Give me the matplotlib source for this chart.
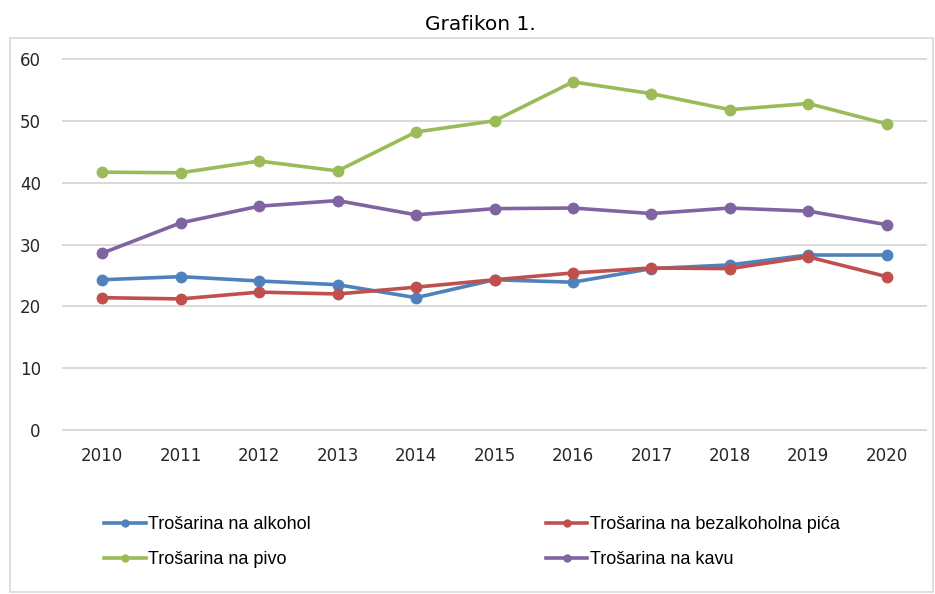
import matplotlib
matplotlib.use("Agg")
import matplotlib.pyplot as plt
from matplotlib.patches import Rectangle

years = ["2010", "2011", "2012", "2013", "2014", "2015", "2016", "2017", "2018", "2019", "2020"]
alkohol = [24.3, 24.8, 24.1, 23.5, 21.4, 24.3, 23.9, 26.1, 26.7, 28.3, 28.3]
bezalkoholna = [21.4, 21.2, 22.3, 22.0, 23.1, 24.3, 25.4, 26.2, 26.1, 28.0, 24.8]
pivo = [41.7, 41.6, 43.5, 41.9, 48.2, 50.0, 56.3, 54.4, 51.8, 52.8, 49.5]
kava = [28.6, 33.5, 36.2, 37.1, 34.8, 35.8, 35.9, 35.0, 35.9, 35.4, 33.2]

labels = ["Trošarina na alkohol", "Trošarina na bezalkoholna pića",
          "Trošarina na pivo", "Trošarina na kavu"]
colors = ["#4F81BD", "#C0504D", "#9BBB59", "#8064A2"]

W, H = 935, 594
fig = plt.figure(figsize=(W / 100, H / 100), dpi=100)
fig.patch.set_facecolor("white")

# outer chart border
fig.add_artist(Rectangle((10 / W, 1 - 592 / H), 923 / W, (592 - 38) / H,
                         transform=fig.transFigure, fill=False,
                         edgecolor="#D9D9D9", linewidth=1.2))

fig.text(480 / W, 1 - 25 / H, "Grafikon 1.", ha="center", va="center",
         fontsize=14.5, family="DejaVu Sans")

ax = fig.add_axes([63 / W, 1 - 430 / H, (926 - 63) / W, (430 - 59) / H])
x = list(range(len(years)))
series = [alkohol, bezalkoholna, pivo, kava]
lines = []
for vals, lab, c in zip(series, labels, colors):
    ln, = ax.plot(x, vals, color=c, linewidth=2.6, marker="o", markersize=7.5,
                  label=lab, zorder=3)
    lines.append(ln)

ax.set_xlim(-0.5, len(years) - 0.5)
ax.set_ylim(0, 60)
ax.set_yticks(range(0, 61, 10))
ax.set_xticks(x)
ax.set_xticklabels(years)
ax.tick_params(axis="both", length=0, labelsize=12, colors="#262626")
ax.tick_params(axis="x", pad=12)
ax.tick_params(axis="y", pad=16)
ax.grid(axis="y", color="#D9D9D9", linewidth=1.4, zorder=0)
for gl in ax.get_ygridlines():
    gl.set_clip_on(False)
for s in ax.spines.values():
    s.set_visible(False)

order = [0, 2, 1, 3]
leg = fig.legend([lines[i] for i in order], [labels[i] for i in order],
                 loc="upper left", bbox_to_anchor=(88 / W, 1 - 500 / H),
                 ncol=2, frameon=False, handlelength=2.3, handletextpad=0.15,
                 columnspacing=13.0, labelspacing=1.0,
                 prop={"family": ["Liberation Sans", "DejaVu Sans"], "size": 13})
for h in leg.legend_handles:
    h.set_markersize(5)

fig.savefig("out.png", dpi=100, facecolor="white")
